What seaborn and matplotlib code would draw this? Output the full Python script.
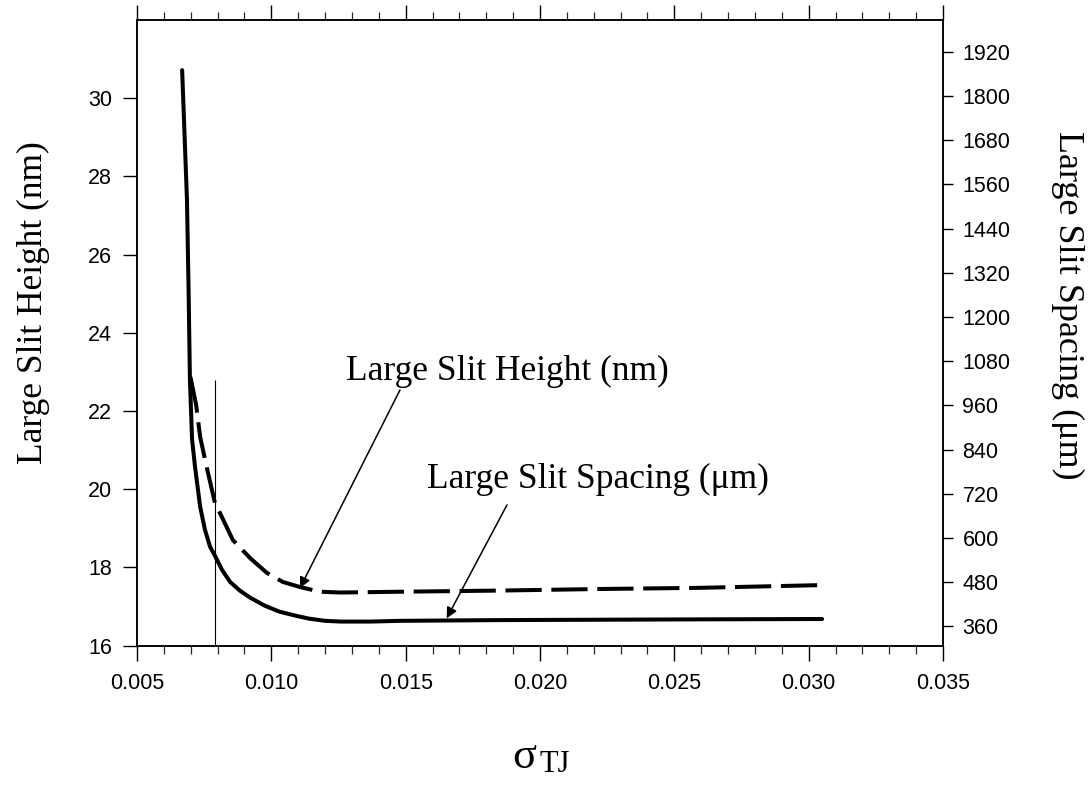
import numpy as np
import pandas as pd
import matplotlib
matplotlib.use("Agg")
import matplotlib.pyplot as plt
from matplotlib.ticker import MultipleLocator, FixedLocator
import seaborn as sns

# ---- data ----
sigma_spacing = [0.00668, 0.00677, 0.00686, 0.00692, 0.00697, 0.00705, 0.00716, 0.00735,
                 0.00753, 0.00772, 0.00790, 0.00816, 0.00846, 0.00883, 0.00921, 0.00976,
                 0.0103, 0.0109, 0.0114, 0.0120, 0.0126, 0.0137, 0.0148, 0.0185, 0.0222,
                 0.0260, 0.0305]
spacing_um = [1870, 1694, 1518, 1273, 1029, 867, 793, 685, 622, 576, 552, 514, 481, 457,
              438, 416, 400, 389, 381, 375, 373, 373, 375, 377, 378, 379, 380]

sigma_height = [0.00699, 0.00720, 0.00735, 0.00759,
                0.00790, 0.00809, 0.00857, 0.00921, 0.00984, 0.01043, 0.01107, 0.01181,
                0.01256, 0.01479, 0.01851, 0.02223, 0.02596, 0.0305]
height_nm = [22.87, 22.16, 21.34, 20.58, 19.65, 19.39, 18.70,
             18.24, 17.86, 17.63, 17.50, 17.38, 17.36, 17.38, 17.41, 17.45, 17.48, 17.55]

vline_x = 0.0079
vline_top = 22.8

x_ticks = [0.005, 0.010, 0.015, 0.020, 0.025, 0.030, 0.035]
left_ticks = [16, 18, 20, 22, 24, 26, 28, 30]
right_ticks = [360, 480, 600, 720, 840, 960, 1080, 1200, 1320, 1440, 1560, 1680, 1800, 1920]

df_h = pd.DataFrame({"sigma": sigma_height, "height": height_nm})
df_s = pd.DataFrame({"sigma": sigma_spacing, "spacing": spacing_um})

# ---- style ----
sns.set_theme(style="ticks")
plt.rcParams["font.family"] = ["Liberation Sans", "DejaVu Sans"]
plt.rcParams["axes.linewidth"] = 1.1
serif = ["Liberation Serif", "DejaVu Serif"]

W, H = 1091, 788
fig = plt.figure(figsize=(W / 100, H / 100), dpi=100)
ax = fig.add_axes([137 / W, 1 - 645.7 / H, (943 - 137) / W, (645.7 - 20) / H])
ax2 = ax.twinx()

sns.lineplot(data=df_h, x="sigma", y="height", ax=ax, color="black", lw=2.9,
             estimator=None, sort=False)
ax.lines[-1].set_linestyle((0, (9, 2.4)))
ax.lines[-1].set_dash_capstyle("butt")

sns.lineplot(data=df_s, x="sigma", y="spacing", ax=ax2, color="black", lw=2.9,
             estimator=None, sort=False)

ax.vlines(vline_x, 16, vline_top, color="black", lw=0.8)

ax.set_xlim(0.005, 0.035)
ax.set_ylim(16, 32)
ax2.set_ylim(307.5, 2006)

ax.xaxis.set_major_locator(FixedLocator(x_ticks))
ax.xaxis.set_minor_locator(MultipleLocator(0.001))
ax.set_xticklabels([f"{v:.3f}" for v in x_ticks])
ax.yaxis.set_major_locator(FixedLocator(left_ticks))
ax.set_yticklabels([str(v) for v in left_ticks])
ax2.yaxis.set_major_locator(FixedLocator(right_ticks))
ax2.set_yticklabels([str(v) for v in right_ticks])

ax.tick_params(axis="x", which="major", direction="out", length=11, width=1.0,
               top=True, bottom=True, labelsize=15.5, pad=9, colors="black")
ax.tick_params(axis="x", which="minor", direction="out", length=5.5, width=0.9,
               top=True, bottom=True)
ax.tick_params(axis="y", which="major", direction="out", length=10, width=1.0,
               labelsize=15.5, pad=8, colors="black")
ax2.tick_params(axis="y", which="major", direction="out", length=7, width=1.0,
                labelsize=15.5, pad=7, colors="black")

for a in (ax, ax2):
    for s in a.spines.values():
        s.set_visible(True)
        s.set_color("black")
        s.set_linewidth(1.1)

ax.set_xlabel("")
ax.set_ylabel("")
ax2.set_ylabel("")

# annotations
ax.text(0.018772, 23.0, "Large Slit Height (nm)", ha="center", va="center",
        family=serif, fontsize=25.5, color="black")
ax.text(0.022159, 20.26, "Large Slit Spacing (μm)", ha="center", va="center",
        family=serif, fontsize=25.5, color="black")
arrow = dict(arrowstyle="-|>", lw=1.1, color="black", mutation_scale=16,
             shrinkA=0, shrinkB=0)
ax.annotate("", xy=(0.011067, 17.475), xytext=(0.014789, 22.54), arrowprops=arrow)
ax.annotate("", xy=(0.016527, 16.70), xytext=(0.018772, 19.60), arrowprops=arrow)

# axis labels
fig.text(33 / W, 1 - 303 / H, "Large Slit Height (nm)", rotation=90, ha="center",
         va="center", family=serif, fontsize=25.5, color="black")
fig.text(1068 / W, 1 - 305 / H, "Large Slit Spacing (μm)", rotation=270, ha="center",
         va="center", family=serif, fontsize=26, color="black")
fig.text(512 / W, 1 - 768 / H, "σ", ha="left", va="baseline", family=serif,
         fontsize=32, color="black")
fig.text(539 / W, 1 - 772 / H, "TJ", ha="left", va="baseline", family=serif,
         fontsize=22, color="black")

fig.savefig("out.png", dpi=100, facecolor="white")
